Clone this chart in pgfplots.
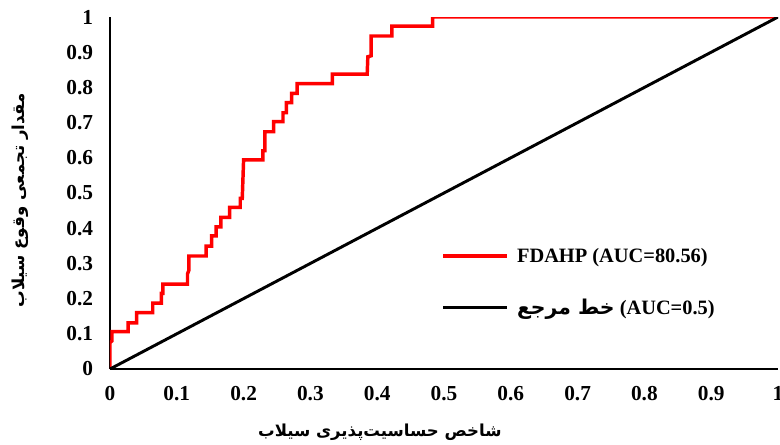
\documentclass[border=0pt]{standalone}
\usepackage{fontspec}
\usepackage{pgfplots}
\pgfplotsset{compat=1.18}
\setmainfont{Liberation Serif}
\newfontfamily\arabicfont[Script=Arabic]{DejaVu Sans}
\TeXXeTstate=1

\begin{document}
\begin{tikzpicture}
\begin{axis}[
  at={(0,0)}, anchor=south west,
  scale only axis, width=501pt, height=264pt,
  xmin=0, xmax=1, ymin=0, ymax=1,
  axis x line=bottom, axis y line=left,
  x axis line style={-, line width=2.2pt},
  y axis line style={-, line width=0.8pt},
  xtick={0,0.1,...,1}, ytick={0,0.1,...,1},
  major tick length=0pt,
  /pgf/number format/assume math mode=true,
  tick label style={font=\fontsize{16}{18}\selectfont\bfseries},
  xticklabel style={inner sep=0pt, anchor=north, yshift=-12.5pt},
  yticklabel style={inner sep=0pt, anchor=east, xshift=-12.5pt},
  every axis x label/.style={at={(axis description cs:0.404,-0.181)}, anchor=center},
  every axis y label/.style={at={(axis description cs:-0.135,0.48)}, rotate=90, anchor=center},
  xlabel={\arabicfont\bfseries\fontsize{12.4}{15}\selectfont\beginR شاخص حساسیت‌پذیری سیلاب\endR},
  ylabel={\arabicfont\bfseries\fontsize{12.4}{15}\selectfont\beginR مقدار تجمعی وقوع سیلاب\endR},
  legend style={at={(axis cs:0.49,0.36)}, anchor=north west, draw=none, fill=none,
    font=\fontsize{15.3}{18}\selectfont\bfseries, row sep=22pt,
    /tikz/every odd column/.append style={column sep=4pt}},
  legend cell align=left,
  legend image code/.code={\draw[#1] (0pt,0pt) -- (48pt,0pt);},
]
\addplot[red, line width=2.6pt, line join=miter] coordinates {
 (0,0) (0,0.075) (0.003,0.08) (0.003,0.106) (0.027,0.106) (0.027,0.131)
 (0.04,0.131) (0.04,0.16) (0.064,0.16) (0.064,0.187) (0.077,0.187)
 (0.077,0.215) (0.079,0.215) (0.079,0.241) (0.116,0.241) (0.116,0.27)
 (0.118,0.28) (0.118,0.321) (0.144,0.321) (0.144,0.349) (0.152,0.349)
 (0.152,0.378) (0.159,0.378) (0.159,0.404) (0.166,0.404) (0.166,0.431)
 (0.179,0.431) (0.179,0.459) (0.195,0.459) (0.195,0.485) (0.198,0.485)
 (0.2,0.594) (0.229,0.594) (0.229,0.62) (0.232,0.62) (0.232,0.674)
 (0.245,0.674) (0.245,0.703) (0.259,0.703) (0.259,0.728) (0.264,0.728)
 (0.264,0.757) (0.272,0.757) (0.272,0.783) (0.28,0.783) (0.28,0.811)
 (0.333,0.811) (0.333,0.838) (0.385,0.838) (0.386,0.887) (0.391,0.89)
 (0.391,0.946) (0.422,0.946) (0.422,0.974) (0.483,0.974) (0.483,1) (1,1)};
\addlegendentry{FDAHP (AUC=80.56)}
\addplot[black, line width=2.2pt] coordinates {(0,0) (1,1)};
\addlegendentry{{\arabicfont\bfseries\beginR خط مرجع\endR} (AUC=0.5)}
\end{axis}
\pgfresetboundingbox
\useasboundingbox (-82.5pt,-56.25pt) rectangle (502.5pt,276.75pt);
\end{tikzpicture}
\end{document}
